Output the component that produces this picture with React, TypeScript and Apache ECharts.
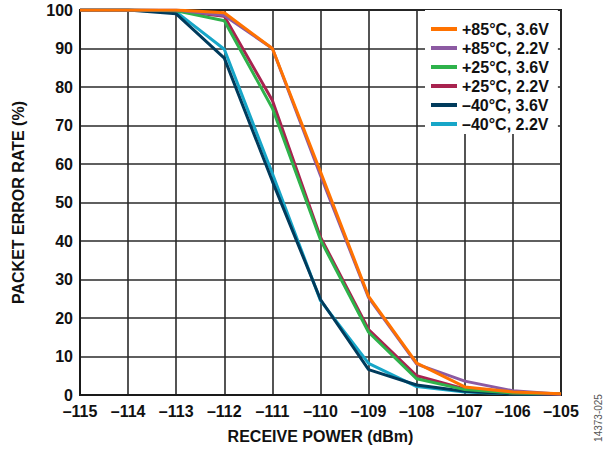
import React, { useEffect, useRef } from "react";
import * as echarts from "echarts";

const xValues = [-115, -114, -113, -112, -111, -110, -109, -108, -107, -106, -105];
const seriesNames = ["+85°C, 3.6V", "+85°C, 2.2V", "+25°C, 3.6V", "+25°C, 2.2V", "–40°C, 3.6V", "–40°C, 2.2V"];
const hot36 = [100, 100, 100, 99.3, 90, 58, 25.6, 8.3, 2.1, 0.8, 0.3];
const hot22 = [100, 100, 100, 98.6, 90, 57, 25.3, 8, 3.6, 1.1, 0.2];
const room36 = [100, 100, 99.8, 97.2, 74.5, 40.3, 16.3, 4.2, 1.4, 0.5, 0.3];
const room22 = [100, 100, 99.8, 98.4, 76.5, 41, 17, 5, 1.6, 0.5, 0.2];
const cold36 = [100, 100, 99, 87.5, 55.5, 24.8, 6.6, 2.6, 1, 0.3, 0.2];
const cold22 = [100, 100, 99.5, 89.8, 57.5, 24.5, 8.2, 2.2, 0.8, 0.3, 0.2];
const seriesValues = [hot36, hot22, room36, room22, cold36, cold22];
const colors = ["#FF7200", "#8C5AA2", "#2EB24B", "#A8234F", "#003B5C", "#17A6C8"];
const zOrder = [8, 7, 6, 5, 4, 3];
const yTicks = { min: 0, max: 100, interval: 10 };
const xTicks = { min: -115, max: -105, interval: 1 };

const FONT = "Liberation Sans, Arial, sans-serif";

export default function App() {
  const ref = useRef<HTMLDivElement>(null);
  useEffect(() => {
    if (!ref.current) return;
    const chart = echarts.init(ref.current, undefined, { renderer: "svg" });
    chart.setOption({
      animation: false,
      backgroundColor: "#ffffff",
      grid: {
        left: 80,
        right: 42,
        top: 10,
        bottom: 54,
        show: true,
        borderColor: "#1a1a1a",
        borderWidth: 2,
        containLabel: false,
        outerBoundsMode: "none",
      },
      legend: {
        orient: "vertical",
        left: 425,
        top: 10,
        padding: [11, 9, 2, 6],
        backgroundColor: "#ffffff",
        icon: "rect",
        itemWidth: 26,
        itemHeight: 4,
        itemGap: 3,
        textStyle: { fontFamily: FONT, fontWeight: "bold", fontSize: 16, color: "#111", lineHeight: 16 },
        data: seriesNames,
      },
      xAxis: {
        type: "value",
        min: xTicks.min,
        max: xTicks.max,
        interval: xTicks.interval,
        name: "RECEIVE POWER (dBm)",
        nameLocation: "middle",
        nameGap: 33,
        nameTextStyle: { fontFamily: FONT, fontWeight: "bold", fontSize: 16, color: "#111" },
        axisLine: { lineStyle: { color: "#1a1a1a", width: 2 } },
        axisTick: { show: false },
        axisLabel: {
          fontFamily: FONT,
          fontWeight: "bold",
          fontSize: 16,
          color: "#111",
          margin: 8,
          formatter: (v: number) => String(v).replace("-", "–"),
        },
        splitLine: { show: true, lineStyle: { color: "#2a2a2a", width: 1.6 } },
      },
      yAxis: {
        type: "value",
        min: yTicks.min,
        max: yTicks.max,
        interval: yTicks.interval,
        name: "PACKET ERROR RATE (%)",
        nameLocation: "middle",
        nameGap: 54,
        nameTextStyle: { fontFamily: FONT, fontWeight: "bold", fontSize: 16, color: "#111" },
        axisLine: { show: true, lineStyle: { color: "#1a1a1a", width: 2 } },
        axisTick: { show: false },
        axisLabel: { fontFamily: FONT, fontWeight: "bold", fontSize: 16, color: "#111", margin: 7 },
        splitLine: { show: true, lineStyle: { color: "#2a2a2a", width: 1.6 } },
      },
      series: seriesNames.map((name, i) => ({
        name,
        type: "line",
        data: xValues.map((x, j) => [x, seriesValues[i][j]]),
        showSymbol: false,
        symbol: "none",
        z: zOrder[i],
        color: colors[i],
        lineStyle: { color: colors[i], width: 3 },
      })),
      graphic: [
        {
          type: "text",
          x: 598,
          y: 418,
          rotation: Math.PI / 2,
          style: {
            text: "14373-025",
            fontFamily: FONT,
            fontSize: 10,
            fill: "#555",
            textAlign: "center",
            textVerticalAlign: "middle",
          },
        },
      ],
    });
    return () => chart.dispose();
  }, []);
  return <div ref={ref} style={{ position: "fixed", left: 0, top: 0, width: 603, height: 449 }} />;
}
